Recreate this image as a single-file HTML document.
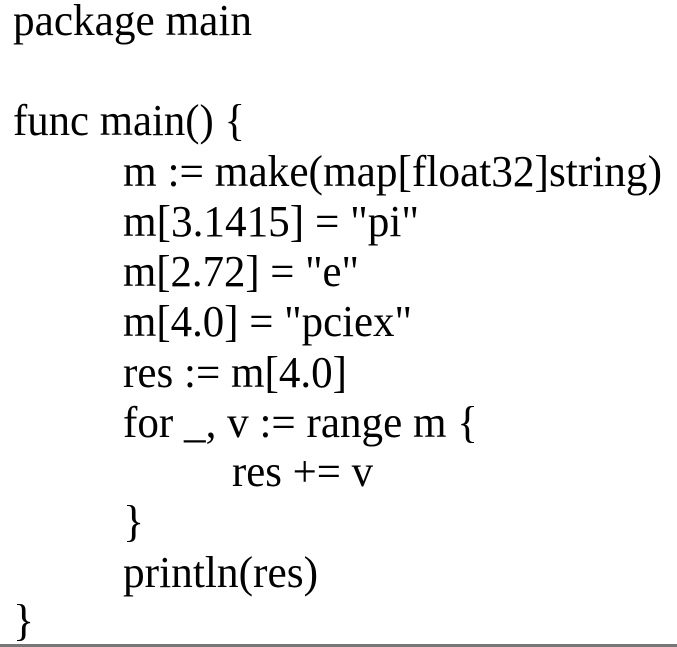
<!DOCTYPE html>
<html><head><meta charset="utf-8"><style>
html,body{margin:0;padding:0;background:#fff;}
svg{display:block}
text{font-family:"Liberation Serif",serif;font-size:44px;fill:#000;}
</style></head><body>
<svg width="677" height="647" viewBox="0 0 677 647" xmlns="http://www.w3.org/2000/svg">
<text x="13" y="35" textLength="239" lengthAdjust="spacingAndGlyphs">package main</text>
<text x="13" y="135" textLength="232" lengthAdjust="spacingAndGlyphs">func main() {</text>
<text x="123" y="186" textLength="539" lengthAdjust="spacingAndGlyphs">m := make(map[float32]string)</text>
<text x="123" y="236" textLength="296" lengthAdjust="spacingAndGlyphs">m[3.1415] = "pi"</text>
<text x="123" y="286" textLength="236" lengthAdjust="spacingAndGlyphs">m[2.72] = "e"</text>
<text x="123" y="336" textLength="289" lengthAdjust="spacingAndGlyphs">m[4.0] = "pciex"</text>
<text x="123" y="387" textLength="224" lengthAdjust="spacingAndGlyphs">res := m[4.0]</text>
<text x="123" y="437" textLength="355" lengthAdjust="spacingAndGlyphs">for _, v := range m {</text>
<text x="232" y="486" textLength="141" lengthAdjust="spacingAndGlyphs">res += v</text>
<text x="123" y="536">}</text>
<text x="123" y="587" textLength="195" lengthAdjust="spacingAndGlyphs">println(res)</text>
<text x="13" y="635">}</text>
<rect x="0" y="644" width="677" height="3" fill="#777"/>
</svg>
</body></html>
